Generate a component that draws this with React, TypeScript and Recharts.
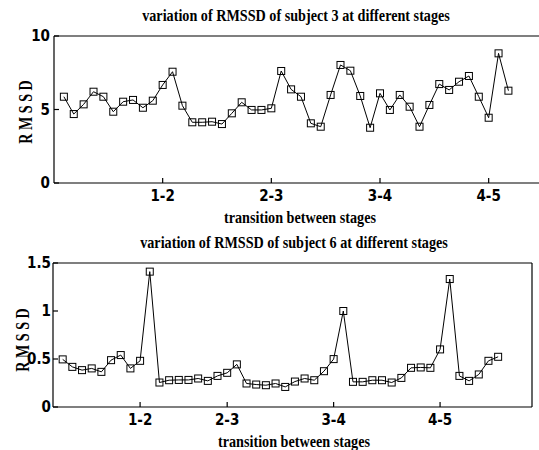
import { Line, LineChart, XAxis, YAxis } from "recharts";

const stageLabels = ["1-2", "2-3", "3-4", "4-5"];

// subject 3
const subject3StageTicks = [11, 22, 33, 44];
const subject3YTicks = [0, 5, 10];
const subject3Rmssd = [
  5.87, 4.69, 5.35, 6.21, 5.87, 4.85, 5.53, 5.65, 5.12, 5.6,
  6.67, 7.57, 5.26, 4.13, 4.13, 4.17, 4.01, 4.74, 5.49, 4.97,
  4.97, 5.08, 7.62, 6.37, 5.87, 4.06, 3.83, 5.99, 8.03, 7.64,
  5.92, 3.76, 6.1, 4.97, 5.99, 5.19, 3.83, 5.31, 6.73, 6.33,
  6.89, 7.28, 5.87, 4.44, 8.82, 6.28,
];

// subject 6
const subject6StageTicks = [9, 18, 29, 40];
const subject6YTicks = [0, 0.5, 1, 1.5];
const subject6Rmssd = [
  0.496, 0.418, 0.384, 0.402, 0.366, 0.488, 0.541, 0.402, 0.481, 1.41,
  0.255, 0.279, 0.282, 0.282, 0.297, 0.272, 0.324, 0.356, 0.444, 0.245,
  0.234, 0.227, 0.245, 0.209, 0.265, 0.297, 0.279, 0.373, 0.499, 1.0,
  0.262, 0.262, 0.279, 0.279, 0.255, 0.303, 0.408, 0.412, 0.408, 0.6,
  1.333, 0.324, 0.272, 0.339, 0.481, 0.523,
];

const toRows = (values: number[]) => values.map((v, i) => ({ x: i + 1, v }));

const tickFont = {
  fontFamily: "'Liberation Sans Narrow', 'DejaVu Sans Condensed', 'Liberation Sans', sans-serif",
  fontWeight: 700,
  fontSize: 15,
  fill: "#000",
};

const serif = "'Liberation Serif', 'DejaVu Serif', serif";

const SquareDot = (props: any) => {
  const { cx, cy, index } = props;
  if (cx == null || cy == null) return <g key={index} />;
  return (
    <rect
      key={index}
      x={cx - 3.5}
      y={cy - 3.5}
      width={7}
      height={7}
      fill="none"
      stroke="#000"
      strokeWidth={1}
    />
  );
};

type PanelProps = {
  values: number[];
  stageTicks: number[];
  yTicks: number[];
  yMax: number;
  width: number;
  height: number;
  margin: { top: number; right: number; bottom: number; left: number };
  yTickMargin: number;
};

// axes need a non-zero size or recharts skips drawing them, so margins are one px short
function Panel({ values, stageTicks, yTicks, yMax, width, height, margin, yTickMargin }: PanelProps) {
  const data = toRows(values);
  const axisStroke = { stroke: "#000", strokeWidth: 1.2 };
  return (
    <LineChart width={width} height={height} data={data} margin={margin}>
      <XAxis
        xAxisId="bottom"
        type="number"
        dataKey="x"
        domain={[0, 49.5]}
        allowDataOverflow
        ticks={stageTicks}
        tickFormatter={(v: number) => stageLabels[stageTicks.indexOf(v)] ?? ""}
        height={1}
        tickSize={-5}
        tickMargin={12}
        axisLine={axisStroke}
        tickLine={axisStroke}
        tick={tickFont}
        interval={0}
      />
      <XAxis
        xAxisId="top"
        orientation="top"
        type="number"
        dataKey="x"
        domain={[0, 49.5]}
        allowDataOverflow
        ticks={stageTicks}
        height={1}
        tickSize={-5}
        tick={false}
        axisLine={axisStroke}
        tickLine={axisStroke}
      />
      <YAxis
        yAxisId="left"
        type="number"
        domain={[0, yMax]}
        allowDataOverflow
        ticks={yTicks}
        width={1}
        tickSize={-5}
        tickMargin={yTickMargin}
        axisLine={axisStroke}
        tickLine={axisStroke}
        tick={tickFont}
        interval={0}
      />
      <YAxis
        yAxisId="right"
        orientation="right"
        type="number"
        domain={[0, yMax]}
        allowDataOverflow
        ticks={yTicks}
        width={1}
        tickSize={-5}
        tick={false}
        axisLine={axisStroke}
        tickLine={axisStroke}
      />
      <Line
        xAxisId="top"
        yAxisId="right"
        dataKey="v"
        stroke="none"
        dot={false}
        activeDot={false}
        isAnimationActive={false}
      />
      <Line
        xAxisId="bottom"
        yAxisId="left"
        type="linear"
        dataKey="v"
        stroke="#000"
        strokeWidth={1}
        dot={SquareDot}
        activeDot={false}
        isAnimationActive={false}
      />
    </LineChart>
  );
}

// the source figure was squeezed sideways, so the serif text is drawn narrow and tall
function Squeezed({
  x,
  y,
  size,
  squeeze,
  vertical,
  children,
}: {
  x: number;
  y: number;
  size: number;
  squeeze: number;
  vertical?: boolean;
  children: string;
}) {
  const t = vertical
    ? `translate(${x},${y}) rotate(-90) scale(${squeeze},1)`
    : `translate(${x},${y}) scale(${squeeze},1)`;
  return (
    <text
      x={0}
      y={0}
      transform={t}
      textAnchor="middle"
      style={{ fontFamily: serif, fontWeight: 700, fontSize: size, fill: "#000" }}
    >
      {children}
    </text>
  );
}

export default function App() {
  return (
    <div
      style={{
        position: "absolute",
        left: 0,
        top: 0,
        width: 539,
        height: 450,
        overflow: "hidden",
        background: "#fff",
      }}
    >
      <div style={{ position: "absolute", left: 0, top: 0 }}>
        <Panel
          values={subject3Rmssd}
          stageTicks={subject3StageTicks}
          yTicks={subject3YTicks}
          yMax={10}
          width={560}
          height={230}
          margin={{ top: 35, right: 16, bottom: 46, left: 53 }}
          yTickMargin={9}
        />
      </div>
      <div style={{ position: "absolute", left: 0, top: 0 }}>
        <Panel
          values={subject6Rmssd}
          stageTicks={subject6StageTicks}
          yTicks={subject6YTicks}
          yMax={1.5}
          width={539}
          height={450}
          margin={{ top: 262, right: 6, bottom: 42, left: 52 }}
          yTickMargin={7}
        />
      </div>
      <svg
        width={539}
        height={450}
        style={{ position: "absolute", left: 0, top: 0, pointerEvents: "none" }}
      >
        <Squeezed x={296} y={21} size={16.5} squeeze={0.86}>
          variation of RMSSD of subject 3 at different stages
        </Squeezed>
        <Squeezed x={300} y={223} size={16.5} squeeze={0.86}>
          transition between stages
        </Squeezed>
        <Squeezed x={32} y={112} size={19} squeeze={0.74} vertical>
          R M S S D
        </Squeezed>
        <Squeezed x={294} y={248} size={16.5} squeeze={0.86}>
          variation of RMSSD of subject 6 at different stages
        </Squeezed>
        <Squeezed x={294} y={447} size={16.5} squeeze={0.86}>
          transition between stages
        </Squeezed>
        <Squeezed x={29} y={340} size={19} squeeze={0.74} vertical>
          R M S S D
        </Squeezed>
      </svg>
    </div>
  );
}
